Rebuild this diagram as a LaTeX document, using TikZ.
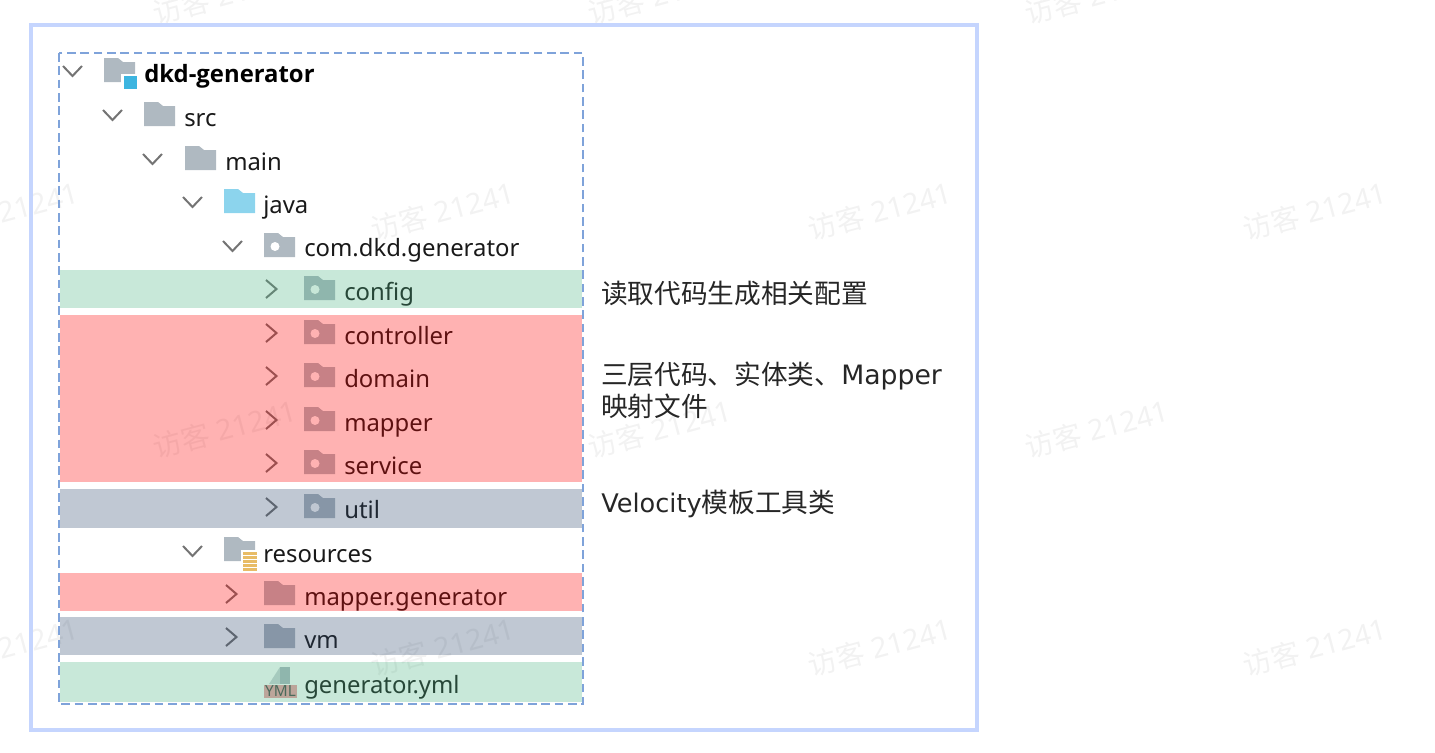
\documentclass[tikz,border=0pt]{standalone}
\usepackage{fontspec}
\setmainfont{Noto Sans}
\newfontfamily\cjk{Noto Sans CJK SC}
\newfontfamily\notelatin{DejaVu Sans}
\newfontfamily\rootlatin{Open Sans}
\definecolor{frameblue}{HTML}{C5D5FE}
\definecolor{dashblue}{HTML}{7FA3DA}
\definecolor{chevgray}{HTML}{747474}
\definecolor{foldergray}{HTML}{AFB9C1}
\definecolor{folderblue}{HTML}{8CD4ED}
\definecolor{badgeblue}{HTML}{3DB5E0}
\definecolor{badgeyellow}{HTML}{E8BC66}
\definecolor{ymlpink}{HTML}{EFA0A6}
\definecolor{bandgreen}{RGB}{72,178,128}
\definecolor{bandred}{RGB}{255,0,0}
\definecolor{bandgray}{RGB}{45,72,108}
\tikzset{%
  % Specifications for style of nodes:
        rowlabel/.style = {anchor=base west, inner sep=0pt, text=black!90,
                           font=\fontsize{17.9}{21}\selectfont},
        rootname/.style = {rowlabel, text=black,
                           font=\fontsize{17.9}{21}\selectfont\rootlatin\bfseries},
        notetext/.style = {anchor=north west, inner sep=0pt, align=left, text=black!85,
                           font=\fontsize{20}{24}\selectfont\notelatin},
       watermark/.style = {rotate=15, inner sep=0pt, text=black!5,
                           font=\fontsize{21.5}{26}\selectfont},
            band/.style = {opacity=0.3},
  % Specifications for style of icons:
  pics/foldericon/.style = {code={
    \fill[#1] (0,-15) -- (14,-15) -- (19,-11) -- (31,-11) -- (31,9) -- (0,9) -- cycle;}},
  pics/packageicon/.style = {code={
    \fill[foldergray] (0,-15) -- (14,-15) -- (19,-11) -- (31,-11) -- (31,9) -- (0,9) -- cycle;
    \fill[white] (11,-1.5) circle (4.5);}},
  pics/chevdown/.style = {code={
    \draw[chevgray, line width=1.5pt] (-9.5,-7) -- (0,3) -- (9.5,-7);}},
  pics/chevright/.style = {code={
    \draw[chevgray, line width=1.5pt] (-5,-11) -- (5.5,-2) -- (-5,7);}},
}

\begin{document}
\begin{tikzpicture}[x=0.75pt, y=-0.75pt]
  \useasboundingbox (0,0) rectangle (1435,753);
  % Specification of watermark nodes
  \node (markA) [watermark] at (225,-5) {{\cjk 访客} 21241};
  \node (markB) [watermark] at (660,-5) {{\cjk 访客} 21241};
  \node (markC) [watermark] at (1097,-5) {{\cjk 访客} 21241};
  \node (markD) [watermark] at (7,211) {{\cjk 访客} 21241};
  \node (markE) [watermark] at (443,211) {{\cjk 访客} 21241};
  \node (markF) [watermark] at (880,211) {{\cjk 访客} 21241};
  \node (markG) [watermark] at (1315,211) {{\cjk 访客} 21241};
  \node (markH) [watermark] at (225,429) {{\cjk 访客} 21241};
  \node (markI) [watermark] at (660,429) {{\cjk 访客} 21241};
  \node (markJ) [watermark] at (1097,429) {{\cjk 访客} 21241};
  \node (markK) [watermark] at (7,647) {{\cjk 访客} 21241};
  \node (markL) [watermark] at (443,647) {{\cjk 访客} 21241};
  \node (markM) [watermark] at (880,647) {{\cjk 访客} 21241};
  \node (markN) [watermark] at (1315,647) {{\cjk 访客} 21241};
  % Outer frame
  \draw[frameblue, line width=3pt] (31,25) rectangle (977,730);
  % Specification of chevrons and icons, row by row
  \pic at (72.5,73) {chevdown};
  \pic at (104,73) {foldericon=foldergray};
  \fill[white] (121,74) rectangle (138,91);
  \fill[badgeblue] (123.5,76) rectangle (137,89);
  \pic at (112.5,117) {chevdown};
  \pic at (144,117) {foldericon=foldergray};
  \pic at (152.5,161) {chevdown};
  \pic at (185,161) {foldericon=foldergray};
  \pic at (192.5,204) {chevdown};
  \pic at (224,204) {foldericon=folderblue};
  \pic at (232.5,248) {chevdown};
  \pic at (264,248) {packageicon};
  \pic at (271,291) {chevright};
  \pic at (304,291) {packageicon};
  \pic at (271,335) {chevright};
  \pic at (304,335) {packageicon};
  \pic at (271,378) {chevright};
  \pic at (304,378) {packageicon};
  \pic at (271,422) {chevright};
  \pic at (304,422) {packageicon};
  \pic at (271,465) {chevright};
  \pic at (304,465) {packageicon};
  \pic at (271,509) {chevright};
  \pic at (304,509) {packageicon};
  \pic at (192.5,553) {chevdown};
  \pic at (224,552) {foldericon=foldergray};
  \fill[white] (241,550) rectangle (259,571);
  \foreach \stripe in {552,556,560,564,567.5}
    \fill[badgeyellow] (243,\stripe) rectangle (257,\stripe+3);
  \pic at (231,596) {chevright};
  \pic at (264,596) {foldericon=foldergray};
  \pic at (231,639) {chevright};
  \pic at (264,639) {foldericon=foldergray};
  % yml file icon
  \fill[foldergray!60] (269,684) -- (280,667) -- (280,684) -- cycle;
  \fill[foldergray] (280,667) rectangle (290,684);
  \fill[ymlpink] (264,685) rectangle (297,698);
  \node (ymlBadge) [inner sep=0pt, text=black!70, font=\fontsize{11.5}{12}\selectfont] at (280.5,691.5) {YML};
  % Specification of tree labels
  \node (rootName) [rootname] at (144,82) {dkd-generator};
  \node (srcName) [rowlabel] at (184,126) {src};
  \node (mainName) [rowlabel] at (225,170) {main};
  \node (javaName) [rowlabel] at (263,213) {java};
  \node (pkgName) [rowlabel] at (304,256.5) {com.dkd.generator};
  \node (configName) [rowlabel] at (344,300) {config};
  \node (controllerName) [rowlabel] at (344,344) {controller};
  \node (domainName) [rowlabel] at (344,387) {domain};
  \node (mapperName) [rowlabel] at (344,431) {mapper};
  \node (serviceName) [rowlabel] at (344,474) {service};
  \node (utilName) [rowlabel] at (344,518) {util};
  \node (resName) [rowlabel] at (263,562) {resources};
  \node (mapperGenName) [rowlabel] at (304,605) {mapper.generator};
  \node (vmName) [rowlabel] at (304,648) {vm};
  \node (ymlName) [rowlabel] at (304,693) {generator.yml};
  % Coloured bands over the tree
  \fill[band, bandgreen] (60,270) rectangle (582,308);
  \fill[band, bandred] (60,315) rectangle (582,482);
  \fill[band, bandgray] (60,489) rectangle (582,528);
  \fill[band, bandred] (60,573) rectangle (582,611);
  \fill[band, bandgray] (60,617) rectangle (582,655);
  \fill[band, bandgreen] (60,662) rectangle (582,702);
  % Dashed box round the tree
  \draw[dashblue, line width=1pt, dash pattern=on 6.5pt off 3.5pt] (59,53) rectangle (583,704);
  % Specification of the notes on the right
  \node (configNote) [notetext] at (601,281) {{\cjk 读取代码生成相关配置}};
  \node (layerNote) [notetext] at (601,362) {{\cjk 三层代码、实体类、}Mapper\\{\cjk 映射文件}};
  \node (utilNote) [notetext] at (601,490) {\fontsize{19.2}{24}\selectfont Velocity{\fontsize{20}{24}\selectfont\cjk 模板工具类}};
\end{tikzpicture}
\end{document}
